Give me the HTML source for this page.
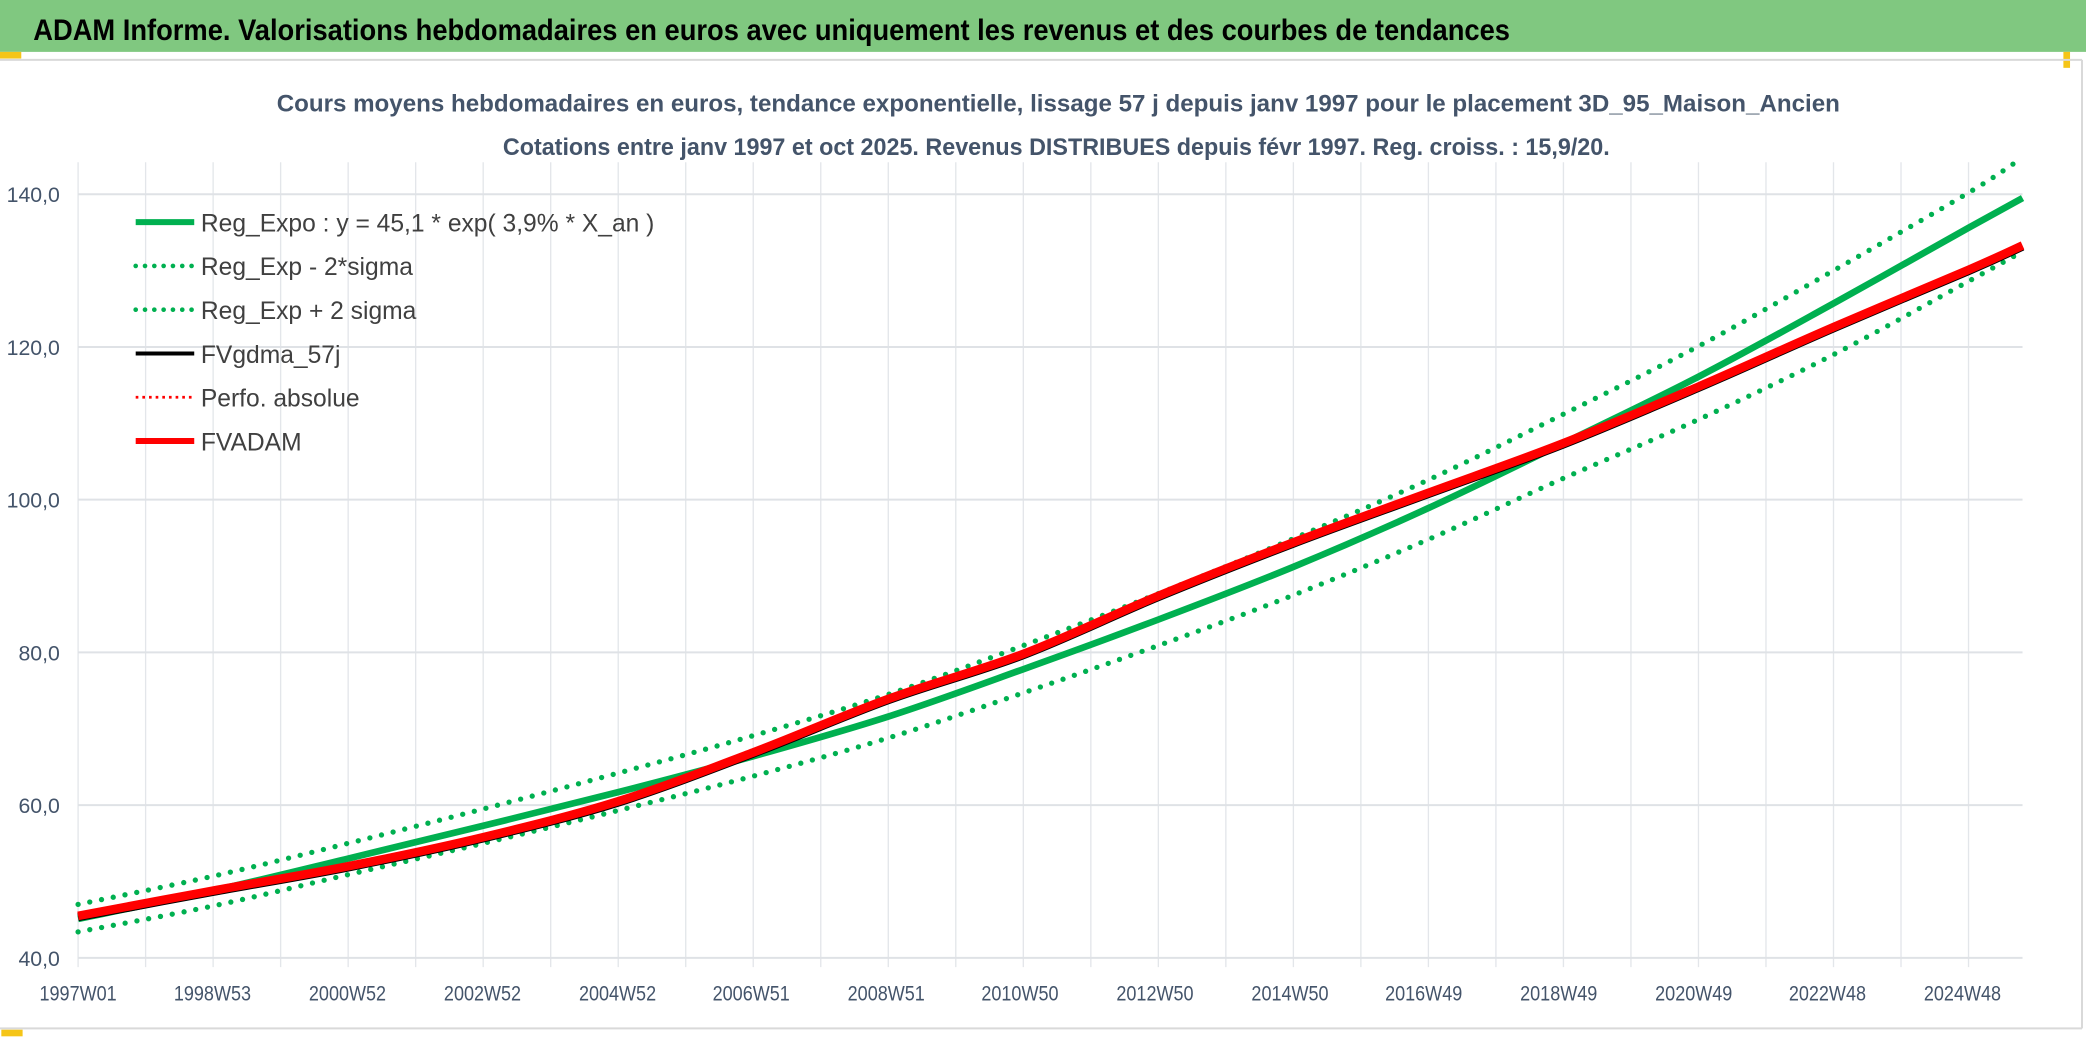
<!DOCTYPE html>
<html><head><meta charset="utf-8"><style>
html,body{margin:0;padding:0;background:#fff;}
svg{display:block;}
text{font-family:"Liberation Sans",sans-serif;}
</style></head><body>
<svg id="chart" width="2086" height="1037" viewBox="0 0 1568 779.5" preserveAspectRatio="none" xmlns="http://www.w3.org/2000/svg">
<rect x="0" y="0" width="1568" height="779.5" fill="#ffffff"/>
<rect x="0" y="0" width="1568" height="39" fill="#80c880"/>
<text x="25" y="30" font-size="22.5" font-weight="bold" fill="#000" textLength="1110" lengthAdjust="spacingAndGlyphs">ADAM Informe. Valorisations hebdomadaires en euros avec uniquement les revenus et des courbes de tendances</text>
<rect x="0" y="39" width="16" height="5" fill="#f5c518"/>
<rect x="1551" y="39" width="5" height="12" fill="#f5c518"/>
<rect x="1" y="774" width="16" height="5" fill="#f5c518"/>
<line x1="0" y1="45" x2="1565" y2="45" stroke="#d9d9d9" stroke-width="1.5"/>
<line x1="1565" y1="45" x2="1565" y2="773" stroke="#d9d9d9" stroke-width="1.5"/>
<line x1="0" y1="773" x2="1565" y2="773" stroke="#d9d9d9" stroke-width="1.5"/>
<text x="208" y="84" font-size="18" font-weight="bold" fill="#44546a" textLength="1175" lengthAdjust="spacingAndGlyphs">Cours moyens hebdomadaires en euros, tendance exponentielle, lissage 57 j depuis janv 1997 pour le placement 3D_95_Maison_Ancien</text>
<text x="378" y="116.5" font-size="18" font-weight="bold" fill="#44546a" textLength="832" lengthAdjust="spacingAndGlyphs">Cotations entre janv 1997 et oct 2025. Revenus DISTRIBUES depuis févr 1997. Reg. croiss. : 15,9/20.</text>
<g id="grid"></g>
<g id="series"></g>
<g id="legend"></g>
</svg>
<script>
const yearTicks = [0,1,2,3,4,5,6,7,8,9,10,11,12,13,14,15,16,17,18,19,20,21,22,23,24,25,26,27,28];
const xLabels = ["1997W01","1998W53","2000W52","2002W52","2004W52","2006W51","2008W51","2010W50","2012W50","2014W50","2016W49","2018W49","2020W49","2022W48","2024W48"];
const xLabelYears = [0,1.99,3.99,5.99,7.99,9.97,11.97,13.95,15.95,17.95,19.93,21.93,23.93,25.91,27.91];
const yTicks = [40,60,80,100,120,140];
const yTickLabels = ["40,0","60,0","80,0","100,0","120,0","140,0"];
const seriesYears = [0,2,4,6,8,10,12,14,16,18,20,22,24,26,28,28.8];
const regExpo = [45.1,48.8,53.0,57.3,61.7,66.4,71.6,77.8,84.3,91.2,98.9,107.4,116.1,125.7,135.6,139.5];
const regUpper = [47.0,50.7,55.0,59.5,64.2,69.1,74.5,80.9,87.7,94.9,102.6,111.2,120.1,130.0,140.2,144.8];
const regLower = [43.4,46.8,50.9,55.0,59.3,63.8,68.8,74.7,80.9,87.5,94.8,102.8,110.5,119.0,128.6,132.5];
const fvadam = [45.5,48.8,52.0,55.8,60.5,66.9,73.9,79.8,87.4,94.4,100.9,107.4,114.8,122.6,130.1,133.3];
const legendLabels = ["Reg_Expo : y = 45,1 * exp( 3,9% *  X_an )","Reg_Exp - 2*sigma","Reg_Exp + 2 sigma","FVgdma_57j","Perfo. absolue","FVADAM"];

const NS="http://www.w3.org/2000/svg";
const X0=58.7, PX_PER_YEAR=50.75, Y40=720, PX_PER_UNIT=5.74;
function xs(t){return X0+t*PX_PER_YEAR;}
function ys(v){return Y40-(v-40)*PX_PER_UNIT;}
function mk(tag,attrs,parent){const e=document.createElementNS(NS,tag);for(const k in attrs)e.setAttribute(k,attrs[k]);parent.appendChild(e);return e;}
const grid=document.getElementById('grid');
const ser=document.getElementById('series');
const leg=document.getElementById('legend');
const plotRight=xs(28.8);
yearTicks.forEach(t=>{
  const l=mk('line',{x1:xs(t),x2:xs(t),y1:122,y2:727,stroke:'#e3e6ea','stroke-width':1},grid);
  
  
});
yTicks.forEach((v,i)=>{
  const l=mk('line',{x1:X0,x2:plotRight,y1:ys(v),y2:ys(v),stroke:'#dfe2e6','stroke-width':1.5},grid);
  
  
  const t=mk('text',{x:45,y:ys(v)+6,'font-size':16,fill:'#44546a','text-anchor':'end'},grid);
  t.textContent=yTickLabels[i];
  
  
});
xLabels.forEach((s,i)=>{
  const t=mk('text',{x:xs(xLabelYears[i])-29,y:752,'font-size':16,fill:'#44546a',textLength:58,lengthAdjust:'spacingAndGlyphs'},grid);
  t.textContent=s;
  
  
});
function smoothPath(vals){
  const pts=seriesYears.map((t,i)=>[xs(t),ys(vals[i])]);
  let d='M'+pts[0][0]+','+pts[0][1];
  for(let i=0;i<pts.length-1;i++){
    const p0=pts[Math.max(0,i-1)],p1=pts[i],p2=pts[i+1],p3=pts[Math.min(pts.length-1,i+2)];
    const c1=[p1[0]+(p2[0]-p0[0])/6,p1[1]+(p2[1]-p0[1])/6];
    const c2=[p2[0]-(p3[0]-p1[0])/6,p2[1]-(p3[1]-p1[1])/6];
    d+=' C'+c1[0]+','+c1[1]+' '+c2[0]+','+c2[1]+' '+p2[0]+','+p2[1];
  }
  return d;
}
const up=mk('path',{d:smoothPath(regUpper),fill:'none',stroke:'#00b050','stroke-width':4,'stroke-dasharray':'0 9','stroke-linecap':'round'},ser);


const lo=mk('path',{d:smoothPath(regLower),fill:'none',stroke:'#00b050','stroke-width':4,'stroke-dasharray':'0 9','stroke-linecap':'round'},ser);


const ce=mk('path',{d:smoothPath(regExpo),fill:'none',stroke:'#00b050','stroke-width':5},ser);


const bl=mk('path',{d:smoothPath(fvadam),fill:'none',stroke:'#000','stroke-width':6,transform:'translate(0,1)'},ser);


const rd=mk('path',{d:smoothPath(fvadam),fill:'none',stroke:'#ff0000','stroke-width':6.5},ser);


const styles=[{s:'#00b050',w:4.5,d:null},{s:'#00b050',w:3.5,d:'0 7'},{s:'#00b050',w:3.5,d:'0 7'},{s:'#000',w:3,d:null},{s:'#ff0000',w:2,d:'2 3'},{s:'#ff0000',w:4.5,d:null}];
legendLabels.forEach((lab,i)=>{
  const y=167+i*32.9;
  const a={x1:102,x2:146,y1:y,y2:y,stroke:styles[i].s,'stroke-width':styles[i].w};
  if(styles[i].d){a['stroke-dasharray']=styles[i].d;if(i<3)a['stroke-linecap']='round';}
  const l=mk('line',a,leg);
  
  
  const t=mk('text',{x:151,y:y+7,'font-size':18.5,fill:'#404040'},leg);
  t.textContent=lab;
  
  
});
</script>
</body></html>
